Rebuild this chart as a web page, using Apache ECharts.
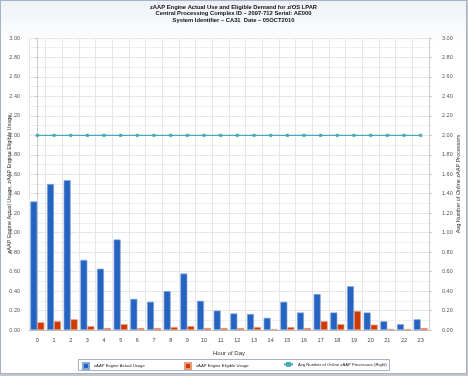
<!DOCTYPE html>
<html><head><meta charset="utf-8">
<script src="https://cdn.jsdelivr.net/npm/echarts@6/dist/echarts.min.js"></script>
<style>
html,body{margin:0;padding:0;background:#c3c7cc;}
#wrap{position:absolute;left:0;top:0;width:465px;height:372px;border:1px solid #a4b3c8;background:linear-gradient(#eef2f7,#ffffff 45px);}
#c{width:465px;height:372px;}
</style></head><body>
<div id="wrap"><div id="c"></div></div>
<script>
const hours = ['0','1','2','3','4','5','6','7','8','9','10','11','12','13','14','15','16','17','18','19','20','21','22','23'];
const actualUsage = [1.32,1.50,1.54,0.72,0.63,0.93,0.32,0.29,0.40,0.58,0.30,0.20,0.17,0.165,0.125,0.29,0.18,0.37,0.18,0.45,0.18,0.09,0.06,0.11];
const eligibleUsage = [0.08,0.09,0.11,0.04,0.02,0.06,0.02,0.02,0.03,0.04,0.02,0.02,0.02,0.03,0.01,0.03,0.02,0.09,0.06,0.195,0.055,0.01,0.01,0.02];
const onlineProcessors = [2.00,2.00,2.00,2.00,2.00,2.00,2.00,2.00,2.00,2.00,2.00,2.00,2.00,2.00,2.00,2.00,2.00,2.00,2.00,2.00,2.00,2.00,2.00,2.00];
const titleLines = ['zAAP Engine Actual Use and Eligible Demand for z/OS LPAR','Central Processing Complex ID – 2097-712 Serial: AE000','System Identifier – CA31  Date – 05OCT2010'];
const seriesNames = ['zAAP Engine Actual Usage','zAAP Engine Eligible Usage','Avg Number of Online zAAP Processors (Right)'];

const chart = echarts.init(document.getElementById('c'));
const fam = '"Liberation Sans", Arial, sans-serif';
const grid = '#e6e6e6';
const legendBase = {top:361,padding:0,itemHeight:6,textStyle:{fontSize:4.2,color:'#222'}};
chart.setOption({
  animation:false,
  textStyle:{fontFamily:fam},
  title:{text:titleLines.join('\n'),left:'center',top:3,padding:0,textStyle:{fontSize:5.8,fontWeight:'bold',color:'#111',lineHeight:6.5}},
  graphic:[{type:'rect',left:77,top:358,shape:{width:311,height:11},style:{fill:'#fff',stroke:'#a9b2c0',lineWidth:1}}],
  legend:[
    Object.assign({},legendBase,{left:81,itemWidth:6,data:[{name:seriesNames[0],icon:'rect'}]}),
    Object.assign({},legendBase,{left:183,itemWidth:6,data:[{name:seriesNames[1],icon:'rect'}]}),
    Object.assign({},legendBase,{left:282,itemWidth:9,data:[{name:seriesNames[2]}]})
  ],
  grid:{left:28,right:37,top:37,bottom:43,containLabel:false,outerBoundsMode:'none'},
  xAxis:[
    {type:'category',data:hours,boundaryGap:true,name:'Hour of Day',nameLocation:'middle',nameGap:20,nameMoveOverlap:false,
     nameTextStyle:{fontSize:6,color:'#333'},
     axisLine:{lineStyle:{color:'#bbb'}},axisTick:{show:false},splitLine:{show:false},
     axisLabel:{fontSize:5.5,color:'#444',margin:7}},
    {type:'value',min:-0.5,max:23.5,interval:1,position:'bottom',axisLine:{show:false},axisTick:{show:false},
     axisLabel:{show:false},splitLine:{show:true,lineStyle:{color:grid,width:1}}}
  ],
  yAxis:[
    {type:'value',min:0,max:3,interval:0.2,position:'left',
     name:'zAAP Engine Actual Usage, zAAP Engine Eligible Usage',nameLocation:'middle',nameGap:17,nameMoveOverlap:false,nameTextStyle:{fontSize:5.5,color:'#333'},
     axisLine:{show:true,lineStyle:{color:'#ccc'}},axisTick:{show:true,length:3,lineStyle:{color:'#ccc'}},
     minorTick:{show:true,splitNumber:2,length:2,lineStyle:{color:'#ddd'}},
     axisLabel:{fontSize:5.5,color:'#555',margin:9,formatter:v=>v.toFixed(2)},
     splitLine:{lineStyle:{color:grid}},minorSplitLine:{show:true,lineStyle:{color:'#efefef'}}},
    {type:'value',min:0,max:3,interval:0.2,position:'right',
     name:'Avg Number of Online zAAP Processors',nameLocation:'middle',nameGap:26,nameMoveOverlap:false,nameTextStyle:{fontSize:5.5,color:'#333'},
     axisLine:{show:true,lineStyle:{color:'#ccc'}},axisTick:{show:true,length:3,lineStyle:{color:'#ccc'}},
     minorTick:{show:true,splitNumber:2,length:2,lineStyle:{color:'#ddd'}},
     axisLabel:{fontSize:5.5,color:'#555',margin:13,formatter:v=>v.toFixed(2)},
     splitLine:{show:false}}
  ],
  series:[
    {name:seriesNames[0],type:'bar',xAxisIndex:0,yAxisIndex:0,data:actualUsage,barWidth:7,barGap:'0%',
     itemStyle:{color:'#2563c1',borderColor:'#86a6dc',borderWidth:0.7}},
    {name:seriesNames[1],type:'bar',xAxisIndex:0,yAxisIndex:0,data:eligibleUsage,barWidth:7,barGap:'0%',
     itemStyle:{color:'#cc3a06',borderColor:'#e89a7c',borderWidth:0.7}},
    {name:seriesNames[2],type:'line',xAxisIndex:0,yAxisIndex:1,data:onlineProcessors,symbol:'rect',symbolSize:3,
     lineStyle:{color:'#45a8b5',width:1.3},itemStyle:{color:'#45a8b5'}}
  ]
});
</script></body></html>
